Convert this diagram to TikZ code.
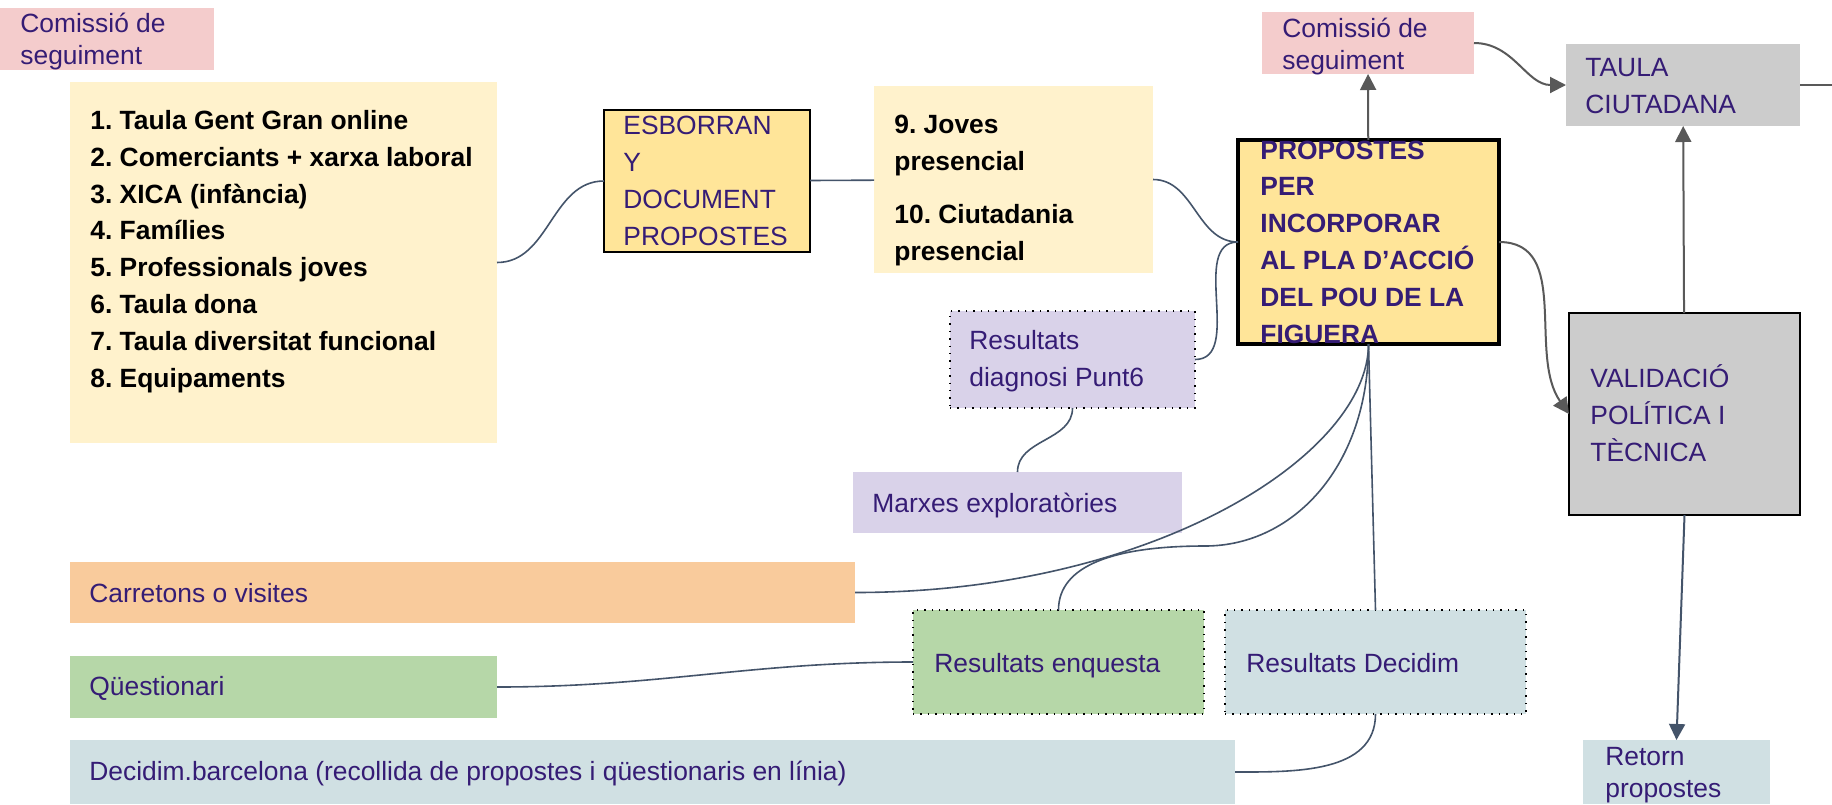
\documentclass[tikz,border=0pt]{standalone}
\usepackage{fontspec}
\setmainfont{Liberation Sans}
\usepackage{xcolor}
\usetikzlibrary{arrows.meta}
\frenchspacing

\definecolor{ink}{HTML}{351C75}
\definecolor{rosa}{HTML}{F4CCCC}
\definecolor{crema}{HTML}{FFF2CC}
\definecolor{groc}{HTML}{FFE599}
\definecolor{gris}{HTML}{CCCCCC}
\definecolor{lila}{HTML}{D9D2E9}
\definecolor{taronja}{HTML}{F9CB9C}
\definecolor{verd}{HTML}{B6D7A8}
\definecolor{blau}{HTML}{D0E0E3}
\definecolor{pissarra}{HTML}{44546A}
\definecolor{fosc}{HTML}{595959}

\tikzset{
	box/.style={rectangle, inner sep=0pt, outer sep=0pt},
	dotbox/.style={box, draw=black, line width=0.7pt, dash pattern=on 0.7pt off 3pt},
	txt/.style={inner sep=0pt, anchor=base west, align=left, text=ink,
		font=\fontsize{13.2}{18.4}\selectfont},
	tight/.style={font=\fontsize{13.2}{15.6}\selectfont},
	txtb/.style={txt, font=\fontsize{13.2}{18.4}\selectfont\bfseries},
	link/.style={draw=pissarra, line width=0.8pt},
	flow/.style={draw=fosc, line width=1pt, -{Triangle[width=8pt,length=8pt]}},
}

\begin{document}
\begin{tikzpicture}[x=0.5pt,y=-0.5pt]
		\fill[white] (0,0) rectangle (1832,804);
		\useasboundingbox (0,0) rectangle (1832,804);
		% boxes
		\node[box, fill=rosa, minimum width=107pt, minimum height=31pt] (com1) at (107,39) {};
		\node[box, fill=crema, minimum width=213.5pt, minimum height=180.5pt] (list) at (283.5,262.5) {};
		\node[box, fill=groc, draw=black, line width=0.6pt, minimum width=103pt, minimum height=71pt] (esb) at (707,181) {};
		\node[box, fill=crema, minimum width=139.5pt, minimum height=93.5pt] (joves) at (1013.5,179.5) {};
		\node[box, fill=groc, draw=black, line width=1.7pt, minimum width=130.5pt, minimum height=102pt] (prop) at (1368.5,242) {};
		\node[box, fill=rosa, minimum width=106pt, minimum height=31pt] (com2) at (1368,43) {};
		\node[box, fill=gris, minimum width=117pt, minimum height=41pt] (taula) at (1683,85) {};
		\node[box, fill=gris, draw=black, line width=0.8pt, minimum width=115.5pt, minimum height=101pt] (valid) at (1684.5,414) {};
		\node[box, fill=blau, minimum width=93.5pt, minimum height=32pt] (retorn) at (1676.5,772) {};
		\node[dotbox, fill=lila, minimum width=122.5pt, minimum height=48.5pt] (diag) at (1072.5,359.5) {};
		\node[box, fill=lila, minimum width=164.5pt, minimum height=30.5pt] (marxes) at (1017.5,502.5) {};
		\node[box, fill=taronja, minimum width=392.5pt, minimum height=30.5pt] (carr) at (462.5,592.5) {};
		\node[box, fill=verd, minimum width=213.5pt, minimum height=31pt] (quest) at (283.5,687) {};
		\node[box, fill=blau, minimum width=582.5pt, minimum height=32pt] (decb) at (652.5,772) {};
		\node[dotbox, fill=verd, minimum width=145.5pt, minimum height=52pt] (enq) at (1058.5,662) {};
		\node[dotbox, fill=blau, minimum width=150.5pt, minimum height=52pt] (resdec) at (1375.5,662) {};
		\coordinate (vora) at (1832,85);
		%
		% texts (placed at the baseline of their last line)
		\node[txt, tight] (com1-t) at (20,64) {Comissió de\\seguiment};
		\node[txtb, text=black] (list-t) at (90,387) {1. Taula Gent Gran online\\2. Comerciants + xarxa laboral\\3. XICA (infància)\\4. Famílies\\5. Professionals joves\\6. Taula dona\\7. Taula diversitat funcional\\8. Equipaments};
		\node[txt] (esb-t) at (623,245) {ESBORRAN\\Y\\DOCUMENT\\PROPOSTES};
		\node[txtb, text=black] (joves-t) at (894,260) {9. Joves\\presencial\\[8pt]10. Ciutadania\\presencial};
		\node[txtb] (prop-t) at (1260,343) {PROPOSTES\\PER\\INCORPORAR\\AL PLA D’ACCIÓ\\DEL POU DE LA\\FIGUERA};
		\node[txt, tight] (com2-t) at (1282,69) {Comissió de\\seguiment};
		\node[txt] (taula-t) at (1585,113) {TAULA\\CIUTADANA};
		\node[txt] (valid-t) at (1590,461) {VALIDACIÓ\\POLÍTICA I\\TÈCNICA};
		\node[txt, tight] (retorn-t) at (1605,797) {Retorn\\propostes};
		\node[txt] (diag-t) at (969,386) {Resultats\\diagnosi Punt6};
		\node[txt] (marxes-t) at (872,512) {Marxes exploratòries};
		\node[txt] (enq-t) at (934,672) {Resultats enquesta};
		\node[txt] (resdec-t) at (1246,672) {Resultats Decidim};
		\node[txt] (carr-t) at (89,602) {Carretons o visites};
		\node[txt] (quest-t) at (89,695) {Qüestionari};
		\node[txt] (decb-t) at (89,780) {Decidim.barcelona (recollida de propostes i qüestionaris en línia)};
		%
		\path[link]
		% left part
		(list) edge[out=0,in=180] (esb)
		(esb) edge (joves)
		(joves) edge[out=0,in=180] (prop)
		(diag) edge[out=0,in=180] (prop)
		(diag.south) edge[out=-90,in=90] (marxes.north)
		% bottom part
		(quest) edge[out=0,in=180] (enq)
		(decb) edge[out=0,in=-90] (resdec.south)
		(resdec.north) edge (prop.south);
		\draw[link] (carr.east) .. controls +(300,0) and +(0,110) .. (prop.south);
		\draw[link] (enq.north) .. controls +(0,-45) and +(-90,0) .. (1205,546)
			.. controls +(90,0) and +(0,120) .. (prop.south);
		%
		% arrows
		\draw[flow] (prop) -- (com2);
		\draw[flow] (com2) to[out=0,in=180] (taula);
		\draw[flow] (valid) -- (taula);
		\draw[flow] (prop.east) to[out=0,in=125] (valid.west);
		\draw[fosc, line width=1pt] (taula) -- (vora);
		\draw[flow, draw=pissarra, fill=pissarra] (valid.south) -- (retorn.north);
	\end{tikzpicture}
\end{document}
